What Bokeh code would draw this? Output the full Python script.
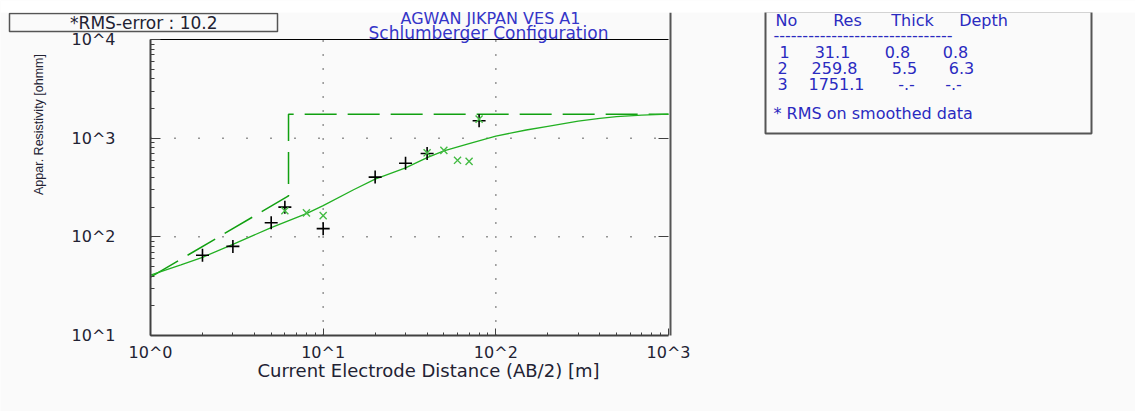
import math
from bokeh.plotting import figure
from bokeh.models import (Range1d, FixedTicker, CustomJSTickFormatter, LogAxis,
                          Label, BoxAnnotation)
from bokeh.embed import file_html
from bokeh.resources import INLINE

# ---------------- data ----------------
# observed field data (AB/2 [m], apparent resistivity [ohmm])
obs_ab2 = [2, 3, 5, 6, 10, 20, 30, 40, 80]
obs_rho = [65, 80, 139, 200, 121, 403, 556, 700, 1500]
# smoothed data
smo_ab2 = [6, 8, 10, 40, 50, 60, 70, 80]
smo_rho = [184, 175, 164, 710, 752, 596, 582, 1560]
# model (calculated) curve
mod_ab2 = [1, 1.5, 2, 3, 5, 8, 10, 15, 20, 30, 40, 50, 70, 100, 150, 200, 300, 400, 500, 700, 1000]
mod_rho = [41, 52, 62, 84, 124, 172, 207, 300, 385, 500, 635, 745, 880, 1050, 1210, 1320, 1490,
           1590, 1650, 1710, 1750]
# layered model
layer_no = ["1", "2", "3"]
layer_res = [31.1, 259.8, 1751.1]
layer_thick = ["0.8", "5.5", "-.-"]
layer_depth = [0.8, 6.3]
layer_depth_txt = ["0.8", "6.3", "-.-"]
rms_error = 10.2
x_ticks = [1, 10, 100, 1000]
y_ticks = [10, 100, 1000, 10000]
x_grid = [10, 100]
y_grid = [100, 1000]

# ---------------- layout helpers (page pixel -> data) ----------------
W, H = 1135, 411
FX0, FX1, FY0, FY1 = 150, 668, 39, 335
XD = (FX1 - FX0) / 3.0
YD = (FY1 - FY0) / 3.0


def dx(px):
    return 10 ** ((px - FX0) / XD)


def dy(py):
    return 10 ** (1 + (FY1 - py) / YD)


FONT = "DejaVu Sans"
TXT = "#222233"

p = figure(width=W, height=H, x_axis_type="log", y_axis_type="log",
           x_range=Range1d(dx(0), dx(W)), y_range=Range1d(dy(H), dy(0)),
           x_axis_location=None, y_axis_location=None,
           output_backend="svg", toolbar_location=None,
           min_border_left=0, min_border_top=0, min_border_right=0, min_border_bottom=0)
p.background_fill_color = "#fafafa"
p.border_fill_color = "#fafafa"
p.outline_line_color = None
p.grid.visible = False

fmt = CustomJSTickFormatter(code="return '10^' + Math.round(Math.log10(tick));")
minors_x = [m * 10 ** d for d in range(0, 3) for m in range(2, 10)]
minors_y = [m * 10 ** d for d in range(1, 4) for m in range(2, 10)]

# grid (dotted)
p.segment(x0=x_grid, x1=x_grid, y0=[y_ticks[0]] * len(x_grid), y1=[y_ticks[-1]] * len(x_grid),
          line_color="#333333", line_width=1.5, line_dash="1 13")
p.segment(x0=[x_ticks[0]] * len(y_grid), x1=[x_ticks[-1]] * len(y_grid), y0=y_grid, y1=y_grid,
          line_color="#333333", line_width=1.5, line_dash="1 23")
# top frame line and right border
p.segment(x0=[x_ticks[0]], x1=[x_ticks[-1]], y0=[y_ticks[-1]], y1=[y_ticks[-1]],
          line_color="black", line_width=1)
p.segment(x0=[dx(670)], x1=[dx(670)], y0=[dy(12)], y1=[y_ticks[0]],
          line_color="#555555", line_width=2)

xa = LogAxis(fixed_location=y_ticks[0], bounds=(x_ticks[0], x_ticks[-1]))
xa.ticker = FixedTicker(ticks=x_ticks, minor_ticks=minors_x)
xa.formatter = fmt
xa.major_tick_in = 7
xa.major_tick_out = 0
xa.minor_tick_in = 3
xa.minor_tick_out = 0
xa.axis_line_color = "#404040"
xa.axis_line_width = 2
xa.major_tick_line_color = "#404040"
xa.minor_tick_line_color = "#404040"
xa.major_label_text_font = FONT
xa.major_label_text_font_size = "16px"
xa.major_label_text_color = TXT
xa.major_label_standoff = 7
p.add_layout(xa, "below")

ya = LogAxis(fixed_location=x_ticks[0], bounds=(y_ticks[0], y_ticks[-1]))
ya.ticker = FixedTicker(ticks=y_ticks, minor_ticks=minors_y)
ya.formatter = fmt
ya.major_tick_in = 10
ya.major_tick_out = 0
ya.minor_tick_in = 4
ya.minor_tick_out = 0
ya.axis_line_color = "#404040"
ya.axis_line_width = 2
ya.major_tick_line_color = "#404040"
ya.minor_tick_line_color = "#404040"
ya.major_label_text_font = FONT
ya.major_label_text_font_size = "16px"
ya.major_label_text_color = TXT
ya.major_label_standoff = 35
ya.major_label_orientation = "horizontal"
p.add_layout(ya, "left")

ra = LogAxis(fixed_location=x_ticks[-1], bounds=(y_ticks[0], y_ticks[-1]),
             ticker=FixedTicker(ticks=y_ticks[1:-1], minor_ticks=[]),
             formatter=CustomJSTickFormatter(code="return '';"),
             major_label_text_alpha=0, major_label_standoff=0,
             major_tick_in=10, major_tick_out=0, axis_line_alpha=0,
             major_tick_line_color="#404040")
p.add_layout(ra, "right")

# layered model (dashed)
lx = [layer_depth[0], layer_depth[1], layer_depth[1], x_ticks[-1]]
ly = [layer_res[0], layer_res[1], layer_res[2], layer_res[2]]
# clip first point to the axis start (1 m) along the log-log line
t = (math.log10(x_ticks[0]) - math.log10(lx[0])) / (math.log10(lx[1]) - math.log10(lx[0]))
ly0 = 10 ** (math.log10(ly[0]) + t * (math.log10(ly[1]) - math.log10(ly[0])))
p.line([x_ticks[0]] + lx[1:], [ly0] + ly[1:], line_color="#11a011", line_width=1.5, line_dash="32 11")
# calculated curve
p.line(mod_ab2, mod_rho, line_color="#22b022", line_width=1.3)
# observed
p.scatter(obs_ab2, obs_rho, marker="cross", size=13, line_color="black", line_width=1.6)
# smoothed
p.scatter(smo_ab2, smo_rho, marker="x", size=10, line_color="#44bb44", line_width=1.4)

# boxes
p.add_layout(BoxAnnotation(left=dx(9), right=dx(277), top=dy(13), bottom=dy(31),
                           fill_color="#fafafa", fill_alpha=1, line_color="#555555",
                           line_alpha=1, line_width=1.5))
p.add_layout(BoxAnnotation(left=dx(765), right=dx(1091), top=dy(11), bottom=dy(133),
                           fill_color="#fafafa", fill_alpha=1, line_color="#555555",
                           line_alpha=1, line_width=2))
# white band at top of page (over the info box top, under the texts)
p.add_layout(BoxAnnotation(left=dx(0), right=dx(W), top=dy(0), bottom=dy(12),
                           fill_color="white", fill_alpha=1, line_alpha=0))

# titles / texts
title_col = "#3535c8"
p.add_layout(Label(x=dx(490), y=dy(18), text="AGWAN JIKPAN VES A1", text_align="center",
                   text_baseline="middle", text_font=FONT, text_font_size="16px",
                   text_color=title_col))
p.add_layout(Label(x=dx(488), y=dy(32), text="Schlumberger Configuration", text_align="center",
                   text_baseline="middle", text_font=FONT, text_font_size="17px",
                   text_color=title_col))
p.add_layout(Label(x=dx(428), y=dy(370), text="Current Electrode Distance (AB/2) [m]",
                   text_align="center", text_baseline="middle", text_font=FONT,
                   text_font_size="18px", text_color=TXT))
p.add_layout(Label(x=dx(38), y=dy(124), text="Appar. Resistivity [ohmm]", angle=math.pi / 2,
                   text_align="center", text_baseline="middle", text_font="Liberation Sans",
                   text_font_size="12.5px", text_color=TXT))
p.add_layout(Label(x=dx(146), y=dy(22), text="*RMS-error :  %.1f" % rms_error,
                   text_align="center", text_baseline="middle", text_font=FONT,
                   text_font_size="17px", text_color=TXT))

info_col = "#2a2ac0"


def info(px, py, txt, align="center"):
    p.add_layout(Label(x=dx(px), y=dy(py), text=txt, text_align=align, text_baseline="middle",
                       text_font=FONT, text_font_size="16px", text_color=info_col))


for cx, h in zip([786, 847, 912, 983], ["No", "Res", "Thick", "Depth"]):
    info(cx, 20, h)
info(773, 34, "-" * 31, "left")
col_x = [[784, 832, 897, 955], [782, 834, 904, 961], [782, 836, 906, 953]]
for i in range(3):
    vals = [layer_no[i], "%.1f" % layer_res[i], layer_thick[i], layer_depth_txt[i]]
    for cx, v in zip(col_x[i], vals):
        info(cx, 51 + i * 16, v)
info(773, 113, "* RMS on smoothed data", "left")

open("out.html", "w").write(file_html(p, INLINE))
